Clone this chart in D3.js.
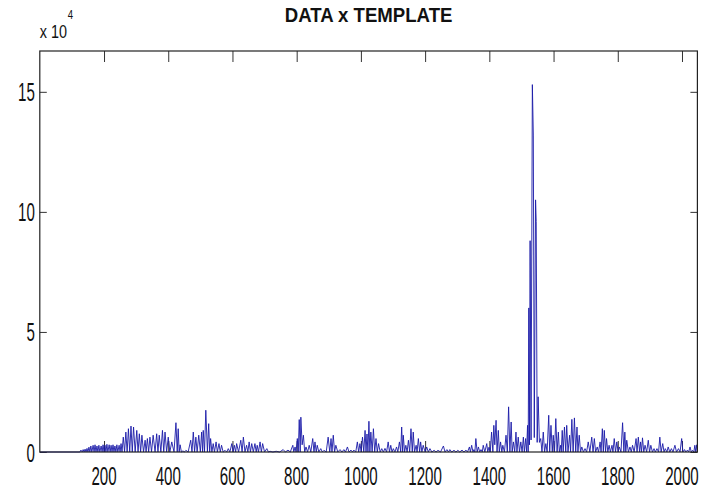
<!DOCTYPE html>
<html>
<head>
<meta charset="utf-8">
<script src="https://cdn.jsdelivr.net/npm/d3@7"></script>
<style>
  body { margin: 0; background: #fff; }
</style>
</head>
<body>
<svg width="706" height="490"></svg>
<script>
// ---- data (y in units of 10^4) ----
var title = "DATA x TEMPLATE";
var xTicks = [200, 400, 600, 800, 1000, 1200, 1400, 1600, 1800, 2000];
var yTicks = [0, 5, 10, 15];
var yExponent = 4;
var nSamples = 2048;
var yMax = 16.7;

// [sample, value] vertices of the trace
var signal = [
  [1,0],[125,0],
  [128,0.08],[132,0],[135,0.1],[138,0],[141,0.12],[144,0],[147,0.15],[150,0],[153,0.2],[156,0],[159,0.25],[162,0],
  [166,0.28],[169,0],[172,0.3],[175,0],[178,0.25],[181,0],[184,0.28],[187,0],[191,0.25],[194,0],[197,0.3],[200,0],
  [203,0.28],[206,0],[209,0.32],[212,0],[216,0.3],[219,0],[222,0.28],[225,0],[228,0.3],[231,0],[234,0.25],[237,0],
  [240,0.3],[243,0],[247,0.28],[250,0],[253,0.35],[256,0],[260,0.62],[264,0],[268,0.83],[272,0],[276,0.97],[280,0],
  [284,1.08],[288,0],[292,1.04],[297,0],[302,0.9],[306,0],[310,0.76],[314,0],[318,0.7],[323,0],[328,0.49],[331,0],
  [335,0.56],[339,0],[343,0.62],[348,0],[353,0.7],[359,0],[364,0.76],[368,0],[372,0.7],[377,0],[382,0.9],[386,0],
  [390,0.83],[395,0],[400,0.62],[405,0],[411,0.42],[418,0],[424,1.22],[428,0],[431,0.97],[434,0],[437,0.3],[441,0],
  [446,0.05],[450,0],[455,0.07],[462,0],[470,0.49],[474,0],[478,0.83],[482,0],[486,0.62],[490,0],[495,0.7],[500,0],
  [504,0.83],[507,0],[509,0.9],[513,0],[517,1.74],[522,0],[526,1.18],[529,0],[532,0.56],[536,0],[540,0.35],[544,0],
  [549,0.42],[553,0],[558,0.35],[562,0],[566,0.28],[571,0],[577,0.07],[582,0],[587,0.14],[592,0],[598,0.35],[602,0],
  [606,0.28],[610,0],[613,0.35],[619,0],[626,0.49],[630,0],[634,0.62],[639,0],[644,0.28],[648,0],[652,0.42],[656,0],
  [660,0.35],[665,0],[670,0.35],[674,0],[677,0.28],[681,0],[686,0.42],[690,0],[694,0.35],[700,0],[707,0.14],[712,0],
  [717,0.03],[726,0],[736,0.03],[747,0],[758,0.1],[765,0],[773,0.08],[780,0],[788,0.28],[791,0],[795,0.21],[798,0],
  [802,0.56],[805,0],[808,1.35],[811,0],[813,1.45],[817,0.3],[821,0.7],[825,0],[829,0.21],[834,0],[839,0.28],[844,0],
  [850,0.56],[854,0],[857,0.42],[861,0],[864,0.28],[869,0],[875,0.14],[880,0],[885,0.07],[892,0],[898,0.62],[903,0],
  [907,0.56],[910,0],[914,0.7],[918,0],[922,0.28],[928,0],[935,0.1],[941,0],[947,0.1],[952,0],[958,0.21],[963,0],
  [969,0.08],[974,0],[978,0.08],[984,0],[989,0.42],[993,0],[997,0.35],[1001,0],[1005,0.62],[1009,0],[1013,0.9],[1016,0],
  [1019,0.75],[1022,0],[1025,1.28],[1028,0],[1031,0.83],[1035,0],[1039,0.97],[1043,0],[1047,0.56],[1051,0],[1055,0.35],[1060,0],
  [1065,0.14],[1070,0],[1075,0.15],[1080,0],[1085,0.42],[1089,0],[1093,0.28],[1097,0],[1101,0.14],[1106,0],[1111,0.21],[1115,0],
  [1120,0.42],[1124,0],[1127,1.04],[1130,0],[1132,0.7],[1136,0],[1140,0.28],[1144,0],[1148,0.49],[1152,0],[1156,0.97],[1160,0],
  [1163,0.83],[1167,0],[1172,0.28],[1175,0],[1179,0.56],[1183,0],[1186,0.42],[1190,0],[1194,0.28],[1200,0],[1205,0.21],[1210,0],
  [1215,0.14],[1221,0],[1228,0.07],[1234,0],[1240,0.07],[1248,0],[1257,0.25],[1262,0],[1268,0.1],[1273,0],[1277,0.1],[1283,0],
  [1290,0.07],[1296,0],[1302,0.07],[1308,0],[1315,0.08],[1321,0],[1327,0.08],[1332,0],[1338,0.21],[1341,0],[1345,0.28],[1349,0],
  [1352,0.1],[1355,0],[1358,0.56],[1362,0],[1366,0.21],[1370,0],[1374,0.1],[1378,0],[1381,0.28],[1386,0],[1392,0.35],[1395,0],
  [1399,0.2],[1403,0],[1407,0.83],[1411,0],[1414,1.11],[1417,0.3],[1421,1.32],[1424,0],[1428,0.9],[1431,0],[1435,0.42],[1439,0],
  [1442,0.28],[1447,0],[1452,0.7],[1456,0],[1460,1.88],[1464,0],[1468,1.25],[1471,0],[1475,0.42],[1479,0],[1483,0.83],[1486,0],
  [1490,0.62],[1494,0],[1498,0.42],[1502,0],[1506,0.62],[1509,0],[1513,0.56],[1516,0],[1519,1.11],[1521,0],
  [1523,6.0],[1525,0.3],[1527,8.8],[1530,0.5],[1534,15.3],[1537,13.2],[1540,0.6],[1544,10.5],[1546,9.6],[1549,0.4],
  [1552,2.3],[1556,0.4],[1560,0.56],[1564,0],[1568,0.83],[1572,0],[1576,0.35],[1580,0],[1585,1.53],[1588,0],[1592,1.11],[1596,0],
  [1599,0.7],[1603,0],[1607,1.39],[1611,0],[1615,0.83],[1618,0],[1622,0.28],[1624,0],[1627,0.9],[1630,0],[1634,1.04],[1638,0],
  [1641,1.11],[1645,0],[1650,0.7],[1653,0],[1657,1.36],[1661,0],[1665,1.42],[1669,0],[1673,1.04],[1676,0],[1680,0.7],[1684,0],
  [1688,0.21],[1693,0],[1698,0.14],[1703,0],[1708,0.42],[1713,0],[1719,0.62],[1723,0],[1727,0.56],[1731,0],[1736,0.21],[1740,0],
  [1745,0.42],[1748,0],[1752,0.97],[1755,0],[1758,0.9],[1762,0],[1765,0.56],[1769,0],[1773,0.28],[1777,0],[1782,0.28],[1785,0],
  [1789,0.56],[1793,0],[1797,0.42],[1801,0],[1805,0.21],[1810,0],[1815,1.22],[1819,0],[1822,0.83],[1825,0],[1828,0.49],[1833,0],
  [1838,0.21],[1842,0],[1846,0.28],[1851,0],[1857,0.56],[1860,0],[1864,0.62],[1868,0],[1871,0.42],[1874,0],[1877,0.59],[1881,0],
  [1885,0.28],[1890,0],[1895,0.49],[1899,0],[1903,0.28],[1908,0],[1913,0.14],[1917,0],[1922,0.14],[1927,0],[1931,0.62],[1935,0],
  [1940,0.35],[1944,0],[1948,0.14],[1953,0],[1957,0.21],[1962,0],[1967,0.14],[1972,0],[1978,0.28],[1983,0],[1989,0.14],[1994,0],
  [1999,0.56],[2003,0],[2008,0.1],[2012,0],[2017,0.08],[2021,0],[2025,0.21],[2029,0],[2033,0.07],[2037,0],[2040,0.28],[2043,0],
  [2046,0.3],[2048,0.05]
];

// ---- layout ----
var svg = d3.select("svg"),
  width = +svg.attr("width"),
  height = +svg.attr("height");

var plotL = 39.8, plotR = 697.4, plotT = 51, plotB = 452;
var font = "'Liberation Sans', Arial, sans-serif";

var x = d3.scaleLinear().domain([0, nSamples]).range([plotL, plotR]);
var y = d3.scaleLinear().domain([0, yMax]).range([plotB, plotT]);

svg.append("rect").attr("width", width).attr("height", height).attr("fill", "white");

// ticks (matlab style, pointing inwards)
function strip(g) {
  g.select(".domain").remove();
  g.selectAll("text").remove();
  g.selectAll("line").attr("stroke", "#333");
}
svg.append("g").attr("transform", "translate(0," + plotB + ")")
  .call(d3.axisBottom(x).tickValues(xTicks).tickSize(-11)).call(strip);
svg.append("g").attr("transform", "translate(0," + plotT + ")")
  .call(d3.axisTop(x).tickValues(xTicks).tickSize(-11)).call(strip);
svg.append("g").attr("transform", "translate(" + plotL + ",0)")
  .call(d3.axisLeft(y).tickValues(yTicks).tickSize(-7)).call(strip);
svg.append("g").attr("transform", "translate(" + plotR + ",0)")
  .call(d3.axisRight(y).tickValues(yTicks).tickSize(-7)).call(strip);

// trace
var line = d3.line().x(d => x(d[0])).y(d => y(d[1]));
svg.append("path")
  .datum(signal)
  .attr("d", line)
  .attr("fill", "none")
  .attr("stroke", "#1a1aa8")
  .attr("stroke-width", 0.9)
  .attr("stroke-linejoin", "round");

// box
svg.append("rect")
  .attr("x", plotL).attr("y", plotT)
  .attr("width", plotR - plotL).attr("height", plotB - plotT)
  .attr("fill", "none").attr("stroke", "#222").attr("stroke-width", 1.2);

// tick labels (narrow glyphs like in the picture)
var sx = 0.58;
svg.selectAll(".xlab").data(xTicks).enter().append("text")
  .attr("class", "xlab")
  .attr("transform", d => "translate(" + x(d) + "," + (plotB + 33) + ") scale(" + sx + ",1)")
  .attr("text-anchor", "middle")
  .style("font-family", font).style("font-size", "26px").attr("fill", "#111")
  .text(d => d);

svg.selectAll(".ylab").data(yTicks).enter().append("text")
  .attr("class", "ylab")
  .attr("transform", d => "translate(" + (plotL - 5) + "," + (y(d) + 9.5) + ") scale(" + sx + ",1)")
  .attr("text-anchor", "end")
  .style("font-family", font).style("font-size", "26px").attr("fill", "#111")
  .text(d => d);

// exponent label
var ex = svg.append("g").attr("transform", "translate(" + plotL + ",38) scale(0.8,1)");
ex.append("text").style("font-family", font).style("font-size", "18px").attr("fill", "#111").text("x 10");
ex.append("text").attr("x", 35).attr("y", -19)
  .style("font-family", font).style("font-size", "12px").attr("fill", "#111").text(yExponent);

// title
svg.append("text")
  .attr("transform", "translate(" + ((plotL + plotR) / 2) + ",22) scale(0.93,1)")
  .attr("text-anchor", "middle")
  .style("font-family", font).style("font-size", "20px").style("font-weight", "bold").attr("fill", "#111")
  .text(title);
</script>
</body>
</html>
